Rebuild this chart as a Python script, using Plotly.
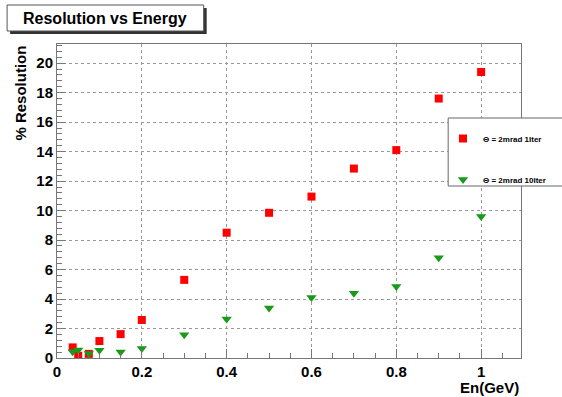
import plotly.graph_objects as go

energy = [0.037, 0.05, 0.075, 0.1, 0.15, 0.2, 0.3, 0.4, 0.5, 0.6, 0.7, 0.8, 0.9, 1.0]
res_1iter = [0.72, 0.15, 0.28, 1.15, 1.62, 2.58, 5.3, 8.5, 9.85, 10.95, 12.85, 14.1, 17.6, 19.4]
res_10iter = [0.42, 0.55, 0.3, 0.52, 0.4, 0.65, 1.58, 2.65, 3.4, 4.1, 4.4, 4.85, 6.8, 9.6]
label_1iter = "Θ = 2mrad 1Iter"
label_10iter = "Θ = 2mrad 10Iter"

W, H = 562, 397
L, R, T, B = 57, 522, 44, 358

def px(xp):
    return (xp - L) / (R - L)

def py(yp):
    return (B - yp) / (B - T)

fig = go.Figure()
fig.add_trace(go.Scatter(x=energy, y=res_1iter, mode="markers", name=label_1iter,
                         legendgroup="a",
                         marker=dict(symbol="square", size=8, color="#ff0000")))
fig.add_trace(go.Scatter(x=energy, y=res_10iter, mode="markers", name=label_10iter,
                         legendgroup="b",
                         marker=dict(symbol="triangle-down", size=9, color="#1a9a1a")))

font = "Liberation Sans, Arial, sans-serif"
axis_common = dict(showline=True, linecolor="#777777", linewidth=1, mirror=True,
                   ticks="inside", tickcolor="#777777", showgrid=True,
                   gridcolor="#999999", griddash="dot", gridwidth=1, zeroline=False,
                   tickfont=dict(family=font, size=15, color="black", weight="bold"))

fig.update_xaxes(range=[0, 1.094], dtick=0.2, tick0=0, ticklen=9,
                 minor=dict(dtick=0.05, ticks="inside", ticklen=5, tickcolor="#777777", showgrid=False),
                 **axis_common)
fig.update_yaxes(range=[0, 21.3], dtick=2, tick0=0, ticklen=9,
                 minor=dict(dtick=0.4, ticks="inside", ticklen=5, tickcolor="#777777", showgrid=False),
                 **axis_common)

shapes = []
# title box shadow and box
shapes.append(dict(type="rect", xref="paper", yref="paper",
                   x0=px(10), x1=px(207), y0=py(34), y1=py(8),
                   fillcolor="#333333", line=dict(width=0), layer="above"))
shapes.append(dict(type="rect", xref="paper", yref="paper",
                   x0=px(7), x1=px(204), y0=py(31), y1=py(5),
                   fillcolor="white", line=dict(color="#555555", width=1), layer="above"))
# legend box
shapes.append(dict(type="rect", xref="paper", yref="paper",
                   x0=px(449), x1=px(570), y0=py(186), y1=py(118),
                   fillcolor="white", line=dict(color="#666666", width=1), layer="above"))
fig.update_layout(shapes=shapes)

fig.add_annotation(xref="paper", yref="paper", x=px(522), y=py(377),
                   text="En(GeV)", showarrow=False, xanchor="right", yanchor="top",
                   font=dict(family=font, size=15, color="black", weight="bold"))
fig.add_annotation(xref="paper", yref="paper", x=px(105), y=py(18),
                   text="Resolution vs Energy", showarrow=False,
                   xanchor="center", yanchor="middle",
                   font=dict(family=font, size=16, color="black", weight="bold"))
fig.add_annotation(xref="paper", yref="paper", x=px(20), y=py(44),
                   text="% Resolution", showarrow=False, textangle=-90,
                   xanchor="center", yanchor="top",
                   font=dict(family=font, size=15, color="black", weight="bold"))

fig.update_layout(
    width=W, height=H,
    margin=dict(l=L, r=W - R, t=T, b=H - B, pad=0),
    paper_bgcolor="white", plot_bgcolor="white",
    showlegend=True,
    legend=dict(x=px(443), y=py(124), xanchor="left", yanchor="top",
                bgcolor="rgba(0,0,0,0)", borderwidth=0, tracegroupgap=22,
                itemwidth=30,
                font=dict(family=font, size=8, color="black", weight="bold")),
)

fig.write_html("out.html", config={"displayModeBar": False},
               post_script="document.body.style.margin='0';")
